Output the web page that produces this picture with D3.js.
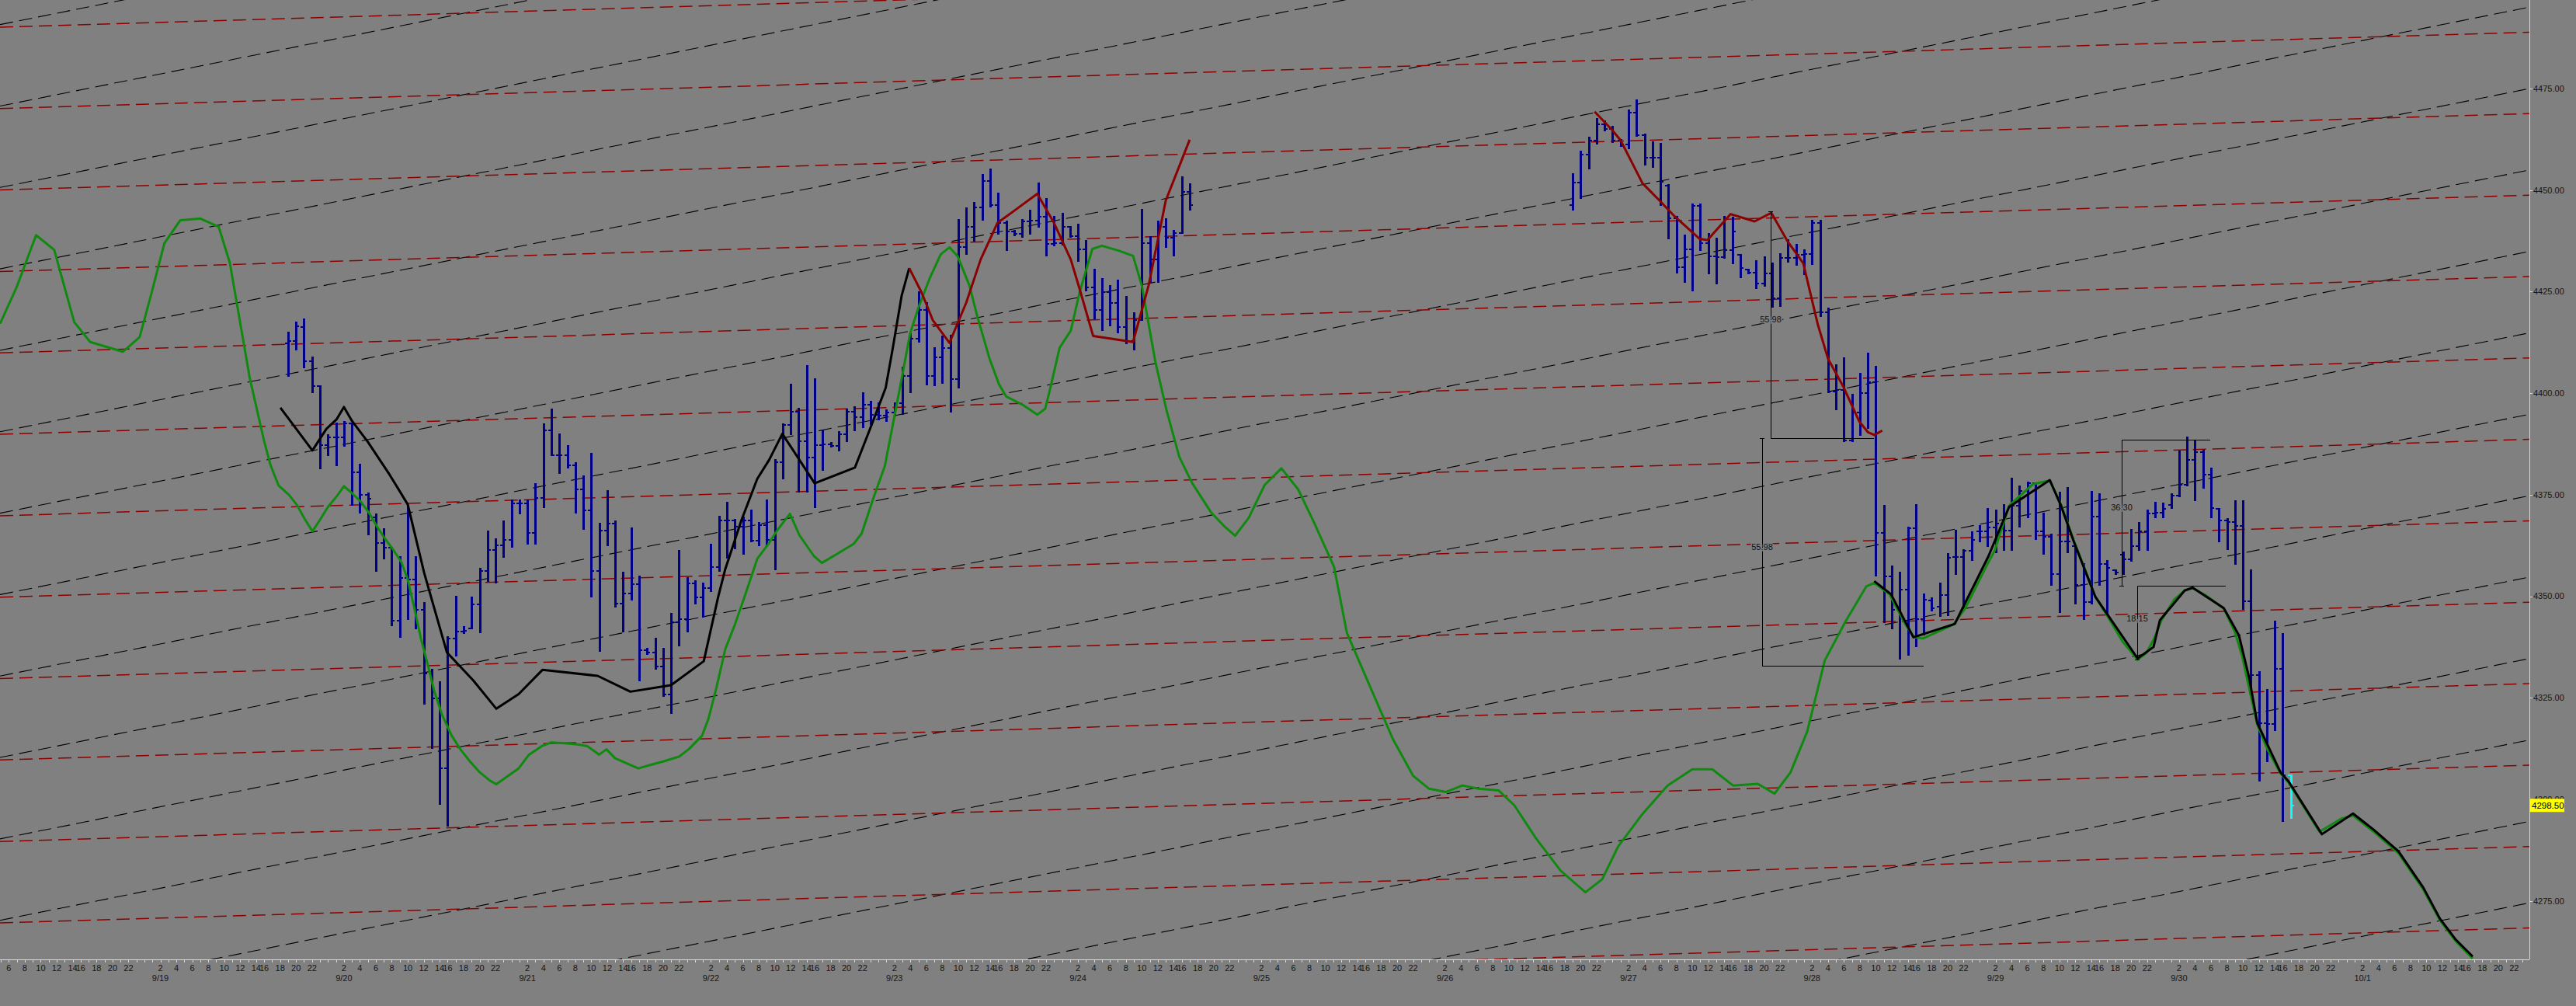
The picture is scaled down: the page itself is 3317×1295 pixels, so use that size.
<!DOCTYPE html>
<html><head><meta charset="utf-8">
<script src="https://cdn.jsdelivr.net/npm/d3@7"></script>
<style>
html,body{margin:0;padding:0;background:#808080;overflow:hidden;}
svg{display:block;}
text{font-family:"Liberation Sans",Arial,sans-serif;}
</style></head><body>
<svg id="chart" width="3317" height="1295"></svg>
<script>
// ---------- DATA ----------
const dates = ["9/19","9/20","9/21","9/22","9/23","9/24","9/25","9/26","9/27","9/28","9/29","9/30","10/1"];
const hourSlots = [0,1,2,3,4,5,6,7,8,9,10,11,12,13,14,16,17,18,19,20,21,22,23]; // 23 hourly bars per day
const hourLabels = [2,4,6,8,10,12,14,16,18,20,22];
const priceTicks = [4275,4300,4325,4350,4375,4400,4425,4450,4475];
const lastPrice = 4298.50;

const seg1Start = 41;
const ohlc1 = [
[4412.2,4414.9,4404.3,4412.8],[4412.8,4417.5,4410.7,4416.4],[4416.3,4418.1,4406.4,4407.9],[4407.9,4408.9,4400.2,4401.7],
[4401.7,4401.7,4381.4,4387.2],[4387.2,4389.6,4384.8,4389.1],[4389.1,4392.5,4382.3,4389.1],[4389.1,4393.0,4387.0,4392.5],
[4392.5,4392.5,4372.5,4380.5],[4380.5,4382.4,4370.5,4375.0],[4375.0,4375.4,4365.2,4374.0],[4369.5,4370.2,4356.2,4363.1],
[4363.1,4366.6,4359.2,4361.9],[4361.9,4362.0,4342.8,4344.0],[4344.0,4359.6,4340.0,4354.5],[4354.5,4372.2,4344.3,4354.1],
[4354.1,4359.6,4342.0,4346.6],[4346.6,4348.3,4323.5,4331.0],[4331.0,4331.9,4312.7,4324.9],[4324.9,4328.9,4298.8,4307.6],
[4307.6,4340.0,4293.5,4339.5],[4339.5,4350.0,4335.3,4341.3],[4341.3,4342.5,4340.9,4341.4],[4342.1,4349.8,4342.1,4347.9],
[4347.9,4356.7,4341.1,4356.2],[4356.2,4366.0,4353.8,4361.4],[4361.4,4364.1,4353.4,4362.6],[4362.6,4368.4,4359.6,4363.9],
[4363.9,4373.7,4362.2,4372.9],[4372.9,4373.7,4370.3,4372.9],[4372.9,4373.6,4362.9,4365.6],[4365.6,4377.7,4362.9,4374.2],
[4374.2,4392.4,4372.0,4390.8],[4390.8,4396.1,4384.8,4384.8],[4384.8,4389.8,4380.4,4384.8],[4384.8,4387.0,4381.7,4382.3],
[4382.3,4382.9,4370.5,4376.3],[4376.3,4379.5,4366.6,4371.2],[4371.2,4385.1,4350.0,4356.2],[4356.2,4367.8,4336.6,4366.2],
[4366.2,4375.9,4362.6,4367.8],[4367.8,4368.4,4347.4,4348.1],[4348.1,4355.8,4341.3,4350.7],[4350.7,4366.7,4349.2,4353.0],
[4353.0,4354.9,4329.3,4336.8],[4336.8,4337.0,4335.7,4336.2],[4336.2,4339.6,4332.1,4332.6],[4332.6,4337.0,4325.5,4325.9],
[4325.9,4345.7,4321.2,4343.6],[4343.6,4361.1,4337.9,4344.3],[4344.3,4354.5,4341.3,4353.2],[4353.2,4353.7,4348.1,4349.8],
[4349.8,4353.2,4344.9,4352.1],[4352.1,4362.8,4351.3,4357.1],[4357.1,4369.7,4356.2,4368.6],[4368.6,4373.1,4359.5,4368.6],
[4368.6,4368.8,4361.8,4367.1],[4367.1,4369.5,4360.5,4368.6],[4368.6,4371.2,4363.5,4363.7],[4363.7,4368.0,4362.6,4367.5],
[4367.5,4373.7,4362.6,4363.9],[4363.9,4383.5,4356.6,4383.0],[4383.0,4392.4,4378.9,4392.2],[4392.2,4402.2,4389.8,4395.4],
[4395.4,4396.2,4375.7,4388.1],[4388.1,4406.7,4375.7,4384.2],[4384.2,4403.5,4371.9,4387.2],[4387.2,4390.8,4381.1,4387.4],
[4387.4,4387.8,4386.8,4387.0],[4387.0,4390.4,4385.9,4389.9],[4389.9,4396.0,4388.1,4395.4],[4395.4,4396.6,4390.8,4394.1],
[4394.1,4400.0,4391.7,4397.1],[4397.1,4397.9,4392.4,4394.7],[4394.7,4397.5,4393.6,4394.5],[4394.5,4395.8,4393.2,4395.2],
[4395.2,4397.6,4394.5,4397.5],[4397.5,4406.4,4394.9,4404.3],[4404.3,4414.6,4400.2,4413.5],[4413.5,4424.8,4412.6,4420.5],
[4420.5,4422.2,4402.2,4404.3],[4404.3,4411.2,4401.9,4408.8],[4408.8,4413.9,4402.6,4411.2],[4411.2,4414.1,4395.4,4403.5],
[4403.5,4442.6,4401.3,4435.9],[4435.9,4445.5,4434.2,4441.0],[4441.0,4446.8,4437.6,4445.7],[4445.7,4453.8,4442.7,4452.3],
[4452.3,4455.1,4446.0,4446.3],[4446.3,4449.1,4439.2,4441.9],[4441.9,4442.3,4435.2,4439.8],[4439.8,4440.0,4438.9,4439.3],
[4439.3,4442.6,4438.5,4442.3],[4442.3,4444.9,4439.3,4442.5],[4442.5,4451.7,4441.0,4443.4],[4443.4,4447.9,4433.8,4436.8],
[4436.8,4443.4,4436.3,4436.9],[4436.9,4444.3,4436.5,4441.0],[4441.0,4441.0,4438.5,4438.6],[4438.6,4441.5,4432.5,4435.5],
[4435.5,4437.6,4425.2,4426.1],[4426.1,4430.4,4418.4,4420.5],[4420.5,4428.2,4415.6,4424.8],[4424.8,4426.5,4416.7,4422.2],
[4422.2,4427.8,4415.0,4416.3],[4416.3,4423.8,4412.2,4412.9],[4412.9,4419.7,4410.7,4418.0],[4418.0,4445.1,4418.0,4436.9],
[4436.9,4438.5,4427.4,4433.0],[4433.0,4442.3,4427.4,4441.0],[4441.0,4442.9,4435.9,4438.3],[4438.3,4440.0,4433.8,4439.5],
[4439.5,4453.2,4439.5,4449.6],[4449.6,4451.5,4445.1,4446.3]
];

const seg2Start = 202;
const ohlc2 = [
[4446.3,4453.9,4445.2,4451.8],[4451.8,4459.5,4448.0,4458.7],[4458.7,4462.9,4455.3,4462.1],[4462.1,4467.6,4461.5,4466.3],
[4466.3,4467.0,4464.7,4465.0],[4465.0,4465.7,4461.9,4462.1],[4462.1,4462.3,4460.8,4461.3],[4461.3,4469.6,4460.2,4469.1],
[4469.1,4472.1,4463.3,4463.6],[4463.6,4463.8,4456.3,4458.0],[4458.0,4461.9,4455.7,4458.0],[4458.0,4461.5,4446.3,4452.1],
[4451.0,4451.2,4438.0,4443.1],[4443.1,4443.5,4429.7,4431.1],[4431.1,4438.8,4427.3,4435.4],[4435.4,4446.5,4425.3,4446.1],
[4446.1,4446.5,4435.2,4436.9],[4436.9,4439.3,4429.4,4433.7],[4433.7,4438.0,4427.0,4433.5],[4433.5,4443.5,4433.4,4435.2],
[4435.2,4443.3,4432.0,4439.8],[4434.0,4434.1,4428.6,4430.9],[4430.5,4430.5,4429.4,4429.6],[4429.6,4432.6,4425.8,4426.9],
[4426.9,4433.5,4426.5,4429.4],[4429.4,4432.0,4421.3,4423.3],[4423.3,4434.3,4421.5,4433.3],[4433.3,4437.7,4432.4,4433.3],
[4433.3,4436.5,4431.6,4434.1],[4434.1,4435.2,4429.2,4434.3],[4434.3,4442.4,4431.7,4442.0],[4442.0,4442.4,4419.0,4420.0],
[4420.0,4420.9,4400.2,4400.4],[4400.4,4407.0,4396.1,4400.8],[4400.8,4408.7,4388.2,4388.4],[4388.4,4399.6,4388.2,4395.3],
[4395.3,4404.9,4389.7,4400.1],[4400.1,4409.8,4391.4,4402.7],[4402.7,4406.6,4355.1,4365.5],[4365.5,4372.2,4343.5,4354.9],
[4354.9,4357.3,4342.0,4346.6],[4346.6,4355.9,4334.7,4351.7],[4351.7,4366.9,4335.5,4366.7],[4366.7,4372.5,4337.7,4344.4],
[4344.4,4350.5,4340.6,4349.2],[4349.0,4349.6,4346.4,4347.0],[4347.4,4353.2,4345.2,4350.3],[4350.3,4360.5,4345.4,4359.4],
[4359.6,4366.2,4355.4,4359.6],[4359.6,4361.3,4346.9,4361.1],[4361.1,4365.7,4358.9,4363.8],[4365.9,4367.4,4363.5,4366.0],
[4366.0,4371.5,4362.4,4367.0],[4367.0,4371.2,4360.9,4367.9],[4367.9,4372.5,4361.3,4366.2],[4366.2,4379.0,4361.3,4372.3],
[4372.3,4377.0,4367.1,4375.9],[4375.9,4378.1,4369.5,4377.8],[4377.8,4377.9,4364.0,4366.0],[4366.0,4370.4,4360.5,4364.6],
[4364.6,4365.3,4352.8,4355.4],[4355.4,4375.5,4346.1,4363.5],[4363.5,4376.6,4360.9,4363.5],[4362.4,4362.4,4348.1,4352.8],
[4352.8,4358.0,4344.4,4348.6],[4348.6,4375.7,4348.1,4369.7],[4369.7,4375.2,4352.8,4358.0],[4358.0,4358.7,4345.5,4356.9],
[4356.4,4356.4,4355.4,4355.9],[4360.2,4360.9,4355.4,4359.1],[4359.1,4366.4,4358.7,4362.4],[4362.4,4368.1,4361.3,4366.0],
[4366.0,4371.2,4361.3,4370.4],[4370.4,4373.1,4369.5,4370.6],[4370.6,4372.8,4369.5,4371.5],[4372.5,4375.2,4371.7,4374.8],
[4374.8,4385.6,4374.5,4377.4],[4377.4,4389.1,4377.2,4383.6],[4383.6,4388.1,4373.7,4385.4],[4385.4,4385.8,4376.6,4379.9],
[4379.9,4381.4,4369.5,4371.7],[4371.5,4371.5,4363.5,4368.6],[4368.6,4369.1,4361.5,4368.2],[4368.2,4373.5,4358.0,4367.4],
[4367.4,4373.4,4346.9,4348.8],[4348.8,4356.5,4327.6,4330.5],[4330.5,4331.3,4304.5,4318.8],[4318.8,4326.9,4309.3,4318.5],
[4318.5,4343.7,4317.0,4332.2],[4332.2,4340.8,4294.7,4306.0],[4306.0,4306.0,4295.4,4298.5]
];

// smooth green indicator [slot, price]
const greenLine = [
[4.9,4417.1],[6.96,4426.0],[9.42,4438.9],[11.69,4435.3],[14.2,4417.5],[16.2,4412.6],[20.3,4410.2],[22.4,4413.8],
[23.8,4424.0],[25.5,4436.9],[27.5,4442.6],[30.0,4443.0],[32.3,4441.0],[33.7,4432.1],[36.2,4403.7],[38.0,4388.2],
[38.8,4382.3],[39.8,4377.3],[41.1,4375.0],[42.1,4372.5],[43.1,4369.0],[44.05,4366.0],[45.0,4368.8],[46.0,4372.0],
[47.1,4374.6],[48.0,4377.1],[49.0,4375.4],[50.1,4373.3],[51.1,4370.7],[52.1,4367.3],[53.1,4364.3],[54.2,4361.4],
[55.2,4358.4],[56.0,4354.1],[56.8,4347.3],[57.65,4339.6],[58.5,4333.2],[59.3,4326.8],[60.3,4320.8],[61.5,4315.7],
[62.6,4312.3],[63.8,4309.3],[65.0,4306.7],[66.3,4304.6],[67.1,4303.7],[68.3,4305.4],[69.9,4307.6],[71.2,4311.0],
[72.8,4313.1],[74.0,4314.0],[75.7,4313.8],[77.3,4313.5],[78.5,4313.1],[80.0,4311.0],[80.9,4312.3],[82.0,4310.1],
[83.5,4308.8],[84.9,4307.6],[86.3,4308.4],[88.0,4309.3],[90.0,4310.5],[91.2,4312.3],[92.9,4315.7],[93.7,4319.9],
[94.7,4327.6],[95.8,4337.0],[97.0,4343.0],[98.2,4349.8],[99.8,4359.2],[101.1,4362.6],[102.4,4366.5],[103.9,4370.3],
[105.1,4365.0],[106.9,4359.9],[107.9,4358.2],[109.7,4360.3],[111.9,4362.9],[112.9,4365.5],[114.4,4374.4],[115.8,4382.1],
[116.8,4392.3],[117.9,4403.5],[118.95,4414.6],[120.0,4421.0],[121.4,4428.2],[122.8,4434.2],[123.9,4435.9],[124.9,4433.8],
[126.4,4426.5],[127.4,4418.8],[128.9,4408.6],[130.1,4402.2],[131.0,4399.2],[133.1,4397.1],[134.9,4394.7],[135.9,4396.2],
[136.6,4401.8],[137.7,4411.2],[139.1,4415.4],[140.2,4424.8],[141.8,4435.5],[143.0,4436.3],[145.1,4435.1],[146.9,4433.8],
[148.0,4426.5],[149.7,4407.7],[151.1,4395.8],[152.7,4384.3],[154.3,4377.9],[156.7,4370.6],[158.3,4367.3],[159.7,4364.9],
[161.4,4369.3],[163.4,4377.4],[165.5,4381.5],[167.6,4376.3],[169.6,4368.1],[172.1,4357.2],[173.7,4341.0],[176.8,4326.9],
[179.5,4314.7],[182.0,4305.8],[184.0,4302.6],[186.1,4301.8],[188.2,4303.4],[190.2,4302.6],[192.7,4302.2],[194.7,4298.5],
[197.4,4290.4],[200.5,4282.4],[203.6,4277.1],[205.7,4280.3],[207.7,4288.4],[210.8,4296.5],[213.9,4303.4],[217.0,4307.4],
[219.5,4307.4],[222.1,4303.4],[225.2,4303.8],[227.3,4301.4],[229.3,4306.6],[231.4,4316.7],[233.6,4334.2],[236.2,4343.8],
[238.8,4352.4],[239.8,4353.3],[241.7,4350.5],[243.7,4343.1],[244.8,4339.9],[245.9,4339.6],[249.7,4343.0],[251.2,4347.0],
[253.8,4357.2],[254.9,4361.3],[256.7,4372.3],[259.7,4377.6],[261.8,4378.5],[263.2,4372.6],[264.8,4363.8],[266.1,4357.2],
[267.5,4349.9],[269.0,4345.2],[270.9,4338.9],[272.8,4334.4],[273.9,4336.0],[274.8,4339.3],[275.8,4344.1],[277.4,4349.2],
[278.7,4351.4],[279.7,4352.0],[281.3,4350.3],[283.6,4347.0],[285.0,4341.2],[285.9,4335.3],[286.8,4327.2],[287.8,4318.4],
[289.1,4312.2],[290.7,4306.4],[291.7,4304.2],[295.6,4292.0],[298.3,4295.2],[299.8,4296.0],[302.4,4292.0],[305.5,4286.7],
[308.6,4277.8],[310.7,4270.2],[312.7,4265.0],[314.8,4260.8]
];

// black swing lines [slot, price]
const blackLine1 = [
[40.04,4396.4],[44.05,4385.9],[45.8,4391.2],[47.1,4393.6],[48.0,4396.6],[49.0,4393.2],[51.0,4388.0],[53.7,4380.0],
[56.0,4372.6],[58.05,4355.8],[60.9,4336.2],[64.2,4329.3],[67.1,4322.3],[69.9,4325.9],[72.9,4331.9],[79.8,4330.4],
[83.9,4326.5],[89.0,4328.1],[93.1,4334.0],[94.9,4349.8],[95.8,4356.7],[97.8,4368.6],[99.8,4378.9],[101.3,4383.6],
[102.95,4390.0],[107.0,4377.8],[112.05,4381.7],[114.0,4391.5],[115.9,4401.3],[116.8,4411.2],[117.9,4424.0],[118.85,4430.8]
];
const blackLine2 = [
[239.8,4353.7],[241.9,4350.5],[244.7,4339.9],[249.9,4343.2],[250.8,4346.8],[254.1,4359.8],[256.7,4372.0],[261.8,4378.6],
[263.2,4372.3],[264.8,4363.5],[267.5,4349.9],[272.8,4334.7],[274.8,4337.5],[275.6,4344.1],[278.7,4351.4],[279.7,4352.1],
[283.6,4347.1],[285.5,4340.4],[286.8,4329.8],[287.8,4318.8],[290.7,4306.7],[291.7,4304.5],[295.9,4291.4],[299.8,4296.5],
[302.4,4292.5],[305.5,4287.2],[308.6,4278.3],[310.7,4270.6],[312.7,4265.4],[314.8,4261.3]
];
// dark red swing lines [slot, price]
const redLine1 = [
[118.85,4430.8],[120.4,4424.8],[121.8,4418.0],[123.9,4412.4],[126.0,4422.3],[127.8,4432.9],[129.9,4441.9],[132.0,4444.9],
[134.9,4449.1],[137.0,4441.9],[139.1,4432.9],[140.2,4425.7],[141.9,4414.1],[146.9,4412.6],[148.85,4426.5],[151.0,4447.4],[154.0,4462.4]
];
const redLine2 = [
[204.75,4469.3],[206.9,4464.9],[208.0,4462.3],[210.75,4451.7],[212.9,4447.4],[214.8,4443.5],[217.9,4438.0],[218.9,4437.7],
[221.8,4444.1],[224.8,4442.3],[226.9,4444.4],[228.9,4437.5],[230.9,4432.0],[232.7,4417.1],[234.0,4408.5],[235.9,4401.7],
[237.9,4393.1],[239.0,4390.4],[239.8,4389.7],[240.8,4390.8]
];

// measurement tools: vertical at slot s from price a to b, horizontal leg to slot sEnd at price legP
const measures = [
  {s:226.8, a:4444.8, b:4388.9, legP:4388.9, sEnd:239.8, tickP:4444.8, label:"55.98", labelP:4418.2},
  {s:225.7, a:4388.9, b:4332.8, legP:4332.8, sEnd:245.96, tickP:4388.9, label:"55.98", labelP:4362.2},
  {s:270.8, a:4388.5, b:4352.5, legP:4388.5, sEnd:281.9, tickP:4352.5, label:"36.30", labelP:4371.8},
  {s:272.8, a:4352.5, b:4334.5, legP:4352.5, sEnd:283.9, tickP:4334.5, label:"18.15", labelP:4344.6}
];

// angled guide lines: price at right edge, total rise across the chart
const blackGuideRight = [4615.35,4595.30,4575.25,4555.20,4535.15,4515.10,4495.05,4475.00,4454.95,4434.90,4414.85,4394.80,4374.75,4354.70,4334.65,4314.60,4294.55,4274.50];
const blackGuideRise = 124.6;
const redGuideRight = [4508.92,4488.87,4468.82,4448.77,4428.72,4408.67,4388.62,4368.57,4348.52,4328.47,4308.42,4288.37,4268.32];
const redGuideRise = 18.8;

// ---------- DRAW ----------
const PLOT_R = 3257, PLOT_B = 1235;
const SLOT_MIN = 4.896, SLOT_MAX = 321.91;
const x = d3.scaleLinear().domain([SLOT_MIN, SLOT_MAX]).range([0, PLOT_R]);
const y = d3.scaleLinear().domain([4496.81, 4260.58]).range([0, PLOT_B]);

const svg = d3.select("#chart");
svg.append("rect").attr("width",3317).attr("height",1295).attr("fill","#808080");
svg.append("defs").append("clipPath").attr("id","plot")
  .append("rect").attr("x",0).attr("y",0).attr("width",PLOT_R).attr("height",PLOT_B);
const g = svg.append("g").attr("clip-path","url(#plot)");

// guide lines
g.selectAll("line.bg").data(blackGuideRight).join("line").attr("class","bg")
  .attr("x1",x(SLOT_MIN)).attr("x2",x(SLOT_MAX))
  .attr("y1",d=>y(d-blackGuideRise)).attr("y2",d=>y(d))
  .attr("stroke","#000").attr("stroke-width",1.1).attr("stroke-dasharray","17,8");
g.selectAll("line.rg").data(redGuideRight).join("line").attr("class","rg")
  .attr("x1",x(SLOT_MIN)).attr("x2",x(SLOT_MAX))
  .attr("y1",d=>y(d-redGuideRise)).attr("y2",d=>y(d))
  .attr("stroke","#8e0000").attr("stroke-width",1.5).attr("stroke-dasharray","17,8");

// bars
function drawBars(data, start, lastColor){
  const bars = data.map((d,i)=>({s:start+i,o:d[0],h:d[1],l:d[2],c:d[3],last:lastColor && i===data.length-1}));
  const bg = g.append("g").attr("shape-rendering","crispEdges");
  bars.forEach(b=>{
    const col = b.last ? "#00ffff" : "#000088";
    const cx = Math.round(x(b.s));
    bg.append("line").attr("x1",cx).attr("x2",cx).attr("y1",y(b.h)-1).attr("y2",y(b.l)+1)
      .attr("stroke",col).attr("stroke-width",3);
    bg.append("line").attr("x1",cx-4).attr("x2",cx).attr("y1",Math.round(y(b.o))).attr("y2",Math.round(y(b.o)))
      .attr("stroke",col).attr("stroke-width",2);
    bg.append("line").attr("x1",cx).attr("x2",cx+4).attr("y1",Math.round(y(b.c))).attr("y2",Math.round(y(b.c)))
      .attr("stroke",col).attr("stroke-width",2);
  });
}
drawBars(ohlc1, seg1Start, false);
drawBars(ohlc2, seg2Start, true);

const line = d3.line().x(d=>x(d[0])).y(d=>y(d[1]));
g.append("path").attr("d",line(greenLine)).attr("fill","none").attr("stroke","#0f8a0f").attr("stroke-width",3).attr("stroke-linejoin","round");
[blackLine1, blackLine2].forEach(L=>g.append("path").attr("d",line(L)).attr("fill","none").attr("stroke","#000").attr("stroke-width",3).attr("stroke-linejoin","round"));
[redLine1, redLine2].forEach(L=>g.append("path").attr("d",line(L)).attr("fill","none").attr("stroke","#8b0000").attr("stroke-width",3).attr("stroke-linejoin","round"));

// measurement tools
const mg = g.append("g").attr("shape-rendering","crispEdges");
measures.forEach(m=>{
  const mx = Math.round(x(m.s));
  mg.append("line").attr("x1",mx).attr("x2",mx).attr("y1",y(m.a)).attr("y2",y(m.b)).attr("stroke","#000").attr("stroke-width",1);
  mg.append("line").attr("x1",mx).attr("x2",x(m.sEnd)).attr("y1",Math.round(y(m.legP))).attr("y2",Math.round(y(m.legP))).attr("stroke","#000").attr("stroke-width",1);
  mg.append("line").attr("x1",mx-3).attr("x2",mx+3).attr("y1",Math.round(y(m.tickP))).attr("y2",Math.round(y(m.tickP))).attr("stroke","#000").attr("stroke-width",1);
  g.append("text").attr("x",mx).attr("y",y(m.labelP)).attr("dy","0.35em").attr("text-anchor","middle")
    .attr("font-size",11).attr("fill","#111").attr("stroke","#808080").attr("stroke-width",3)
    .attr("paint-order","stroke").text(m.label);
});

// axes
const axisCol = "#d9d9d9";
svg.append("line").attr("x1",PLOT_R+0.5).attr("x2",PLOT_R+0.5).attr("y1",0).attr("y2",PLOT_B).attr("stroke",axisCol).attr("stroke-width",1);
svg.append("line").attr("x1",0).attr("x2",PLOT_R).attr("y1",PLOT_B+0.5).attr("y2",PLOT_B+0.5).attr("stroke",axisCol).attr("stroke-width",1);

// right price axis
priceTicks.forEach(p=>{
  svg.append("line").attr("x1",PLOT_R).attr("x2",PLOT_R+4).attr("y1",Math.round(y(p))+0.5).attr("y2",Math.round(y(p))+0.5).attr("stroke",axisCol);
  svg.append("text").attr("x",PLOT_R+5).attr("y",y(p)).attr("dy","0.36em").attr("font-size",11).attr("fill","#151515").text(p.toFixed(2));
});
svg.append("rect").attr("x",PLOT_R+1).attr("y",y(lastPrice)-8.5).attr("width",44).attr("height",17).attr("fill","#ffff00");
svg.append("text").attr("x",PLOT_R+3).attr("y",y(lastPrice)).attr("dy","0.36em").attr("font-size",11.5).attr("fill","#000").text(lastPrice.toFixed(2));

// bottom time axis
const tg = svg.append("g").attr("shape-rendering","crispEdges");
for(let s=Math.ceil(SLOT_MIN); s<=SLOT_MAX; s++){
  tg.append("line").attr("x1",Math.round(x(s))+0.5).attr("x2",Math.round(x(s))+0.5).attr("y1",PLOT_B+1).attr("y2",PLOT_B+4).attr("stroke",axisCol);
}
for(let d=0; d<=dates.length; d++){
  hourLabels.forEach(h=>{
    const s = d*23 + hourSlots.indexOf(h);
    if (s < SLOT_MIN+0.5 || s > SLOT_MAX-0.5) return;
    svg.append("text").attr("x",x(s)).attr("y",PLOT_B+15).attr("text-anchor","middle").attr("font-size",11).attr("fill","#151515").text(h);
  });
}
dates.forEach((lab,i)=>{
  const s = (i+1)*23 + 2;
  svg.append("text").attr("x",x(s)).attr("y",PLOT_B+28).attr("text-anchor","middle").attr("font-size",11).attr("fill","#151515").text(lab);
});
</script>
</body></html>
